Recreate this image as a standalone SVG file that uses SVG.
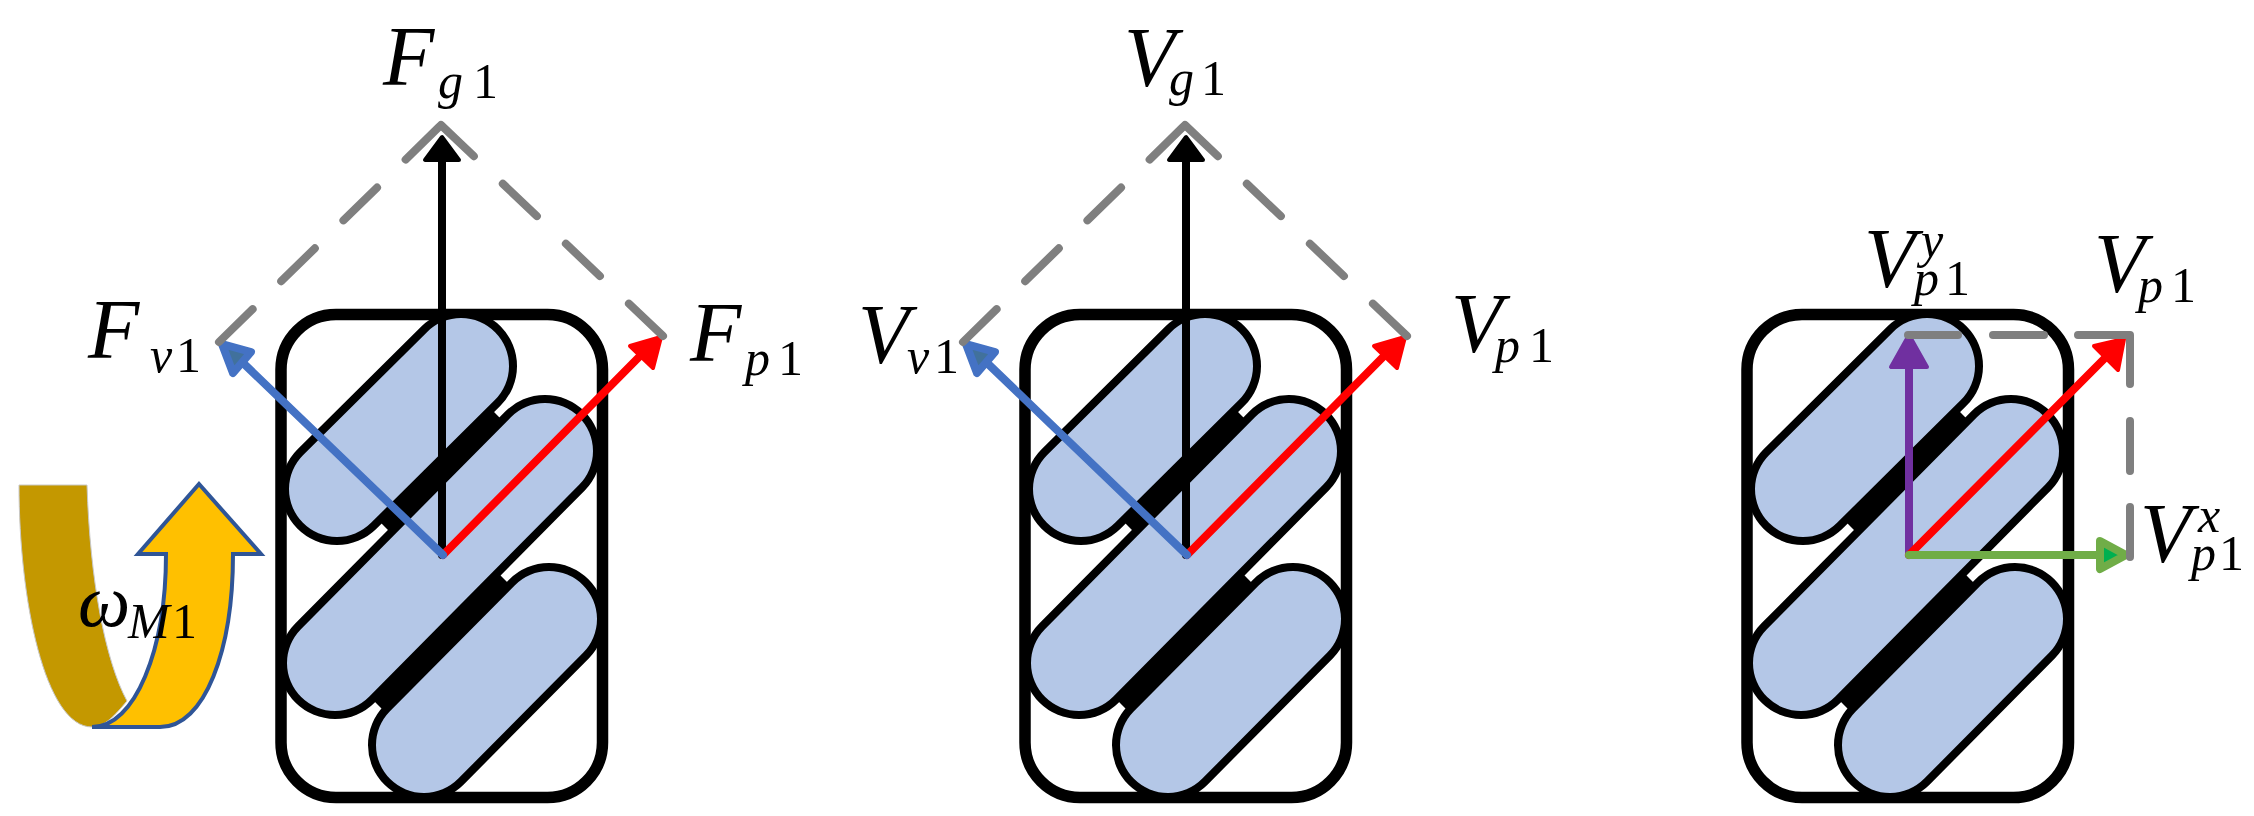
<svg xmlns="http://www.w3.org/2000/svg" width="2254" height="816" viewBox="0 0 2254 816" font-family="'Liberation Serif', serif">
<style>
text,tspan{font-family:'Liberation Serif',serif;fill:#000}
.b{font-size:84px;font-style:italic}
.w{font-size:74px;font-style:italic}
.s{font-size:50px;font-style:italic}
.d{font-size:50px;font-style:normal}
.frame{fill:none;stroke:#000;stroke-width:11.5}
.band{stroke:#000;stroke-width:26;fill:none}
.co{stroke:#000;stroke-width:112;stroke-linecap:round;fill:none}
.ci{stroke:#B4C7E7;stroke-width:96;stroke-linecap:round;fill:none}
.gray{fill:none;stroke:#7F7F7F;stroke-width:8;stroke-linecap:round;stroke-linejoin:round}
.dash{stroke-dasharray:47 40}
.ln{fill:none;stroke-width:8;stroke-linecap:round}
.hd{stroke-width:4;stroke-linejoin:round}
</style>
<defs>
<g id="body">
<rect class="frame" x="281" y="314.5" width="321.5" height="483" rx="55" ry="55"/>
<path class="band" d="M385,527L497,415M378,705L504,579"/>
<path class="co" d="M337,489L461,366"/><path class="ci" d="M337,489L461,366"/>
<path class="co" d="M335,663L545,451"/><path class="ci" d="M335,663L545,451"/>
<path class="co" d="M424,745L549,619"/><path class="ci" d="M424,745L549,619"/>
</g>
<g id="fan">
<path class="ln" stroke="#000" d="M442,555V160"/>
<path class="hd" fill="#000" stroke="#000" d="M442,137L425,160H459Z"/>
<path class="ln" stroke="#FF0000" d="M443,555L642,354"/>
<path class="hd" fill="#FF0000" stroke="#FF0000" d="M661,337L630,346L653,368Z"/>
<path class="ln" stroke="#4472C4" d="M443,555L240,360"/>
<path fill="#41719C" stroke="#4472C4" stroke-width="8" stroke-linejoin="round" d="M222,344L251,352L233,373Z"/>
<path class="gray dash" d="M219,342L441,125"/>
<path class="gray dash" d="M663,336L441,125"/>
</g>
</defs>
<g id="body-1"><use href="#body"/></g>
<g id="body-2"><use href="#body" x="744"/></g>
<g id="body-3"><use href="#body" x="1466"/></g>
<g id="rotation">
<path fill="#C49800" stroke="#C8C8C8" stroke-width="1" d="M19,485H87C90,580 105,660 127,701C115,715 105,727 92,727C45,727 19,600 19,485Z"/>
<path fill="#FFC000" stroke="#2F5597" stroke-width="4" d="M92,727C135,727 166,650 166,554H138L199,484L261,554H233C233,650 205,727 160,727Z"/>
<text><tspan class="w" x="78" y="626">ω</tspan><tspan class="s" x="128" y="638">M</tspan><tspan class="d" x="172" y="638">1</tspan></text>
</g>
<g id="connectors">
<use href="#fan"/>
<use href="#fan" x="744"/>
<path class="ln" stroke="#7030A0" d="M1909,555V368"/>
<path class="hd" fill="#7030A0" stroke="#7030A0" d="M1909,335L1891,367H1927Z"/>
<path class="ln" stroke="#FF0000" d="M1909,555L2105,358"/>
<path class="hd" fill="#FF0000" stroke="#FF0000" d="M2124,339L2094,346L2118,370Z"/>
<path class="ln" stroke="#70AD47" d="M1909,555H2100"/>
<path fill="#00B050" stroke="#70AD47" stroke-width="8" stroke-linejoin="round" d="M2100,541L2126,555L2100,569Z"/>
<path class="gray" d="M1908,335H1958M1993,335H2044M2078,335H2130V384M2130,421V471M2130,507V557"/>
</g>
<g id="labels-force">
<text><tspan class="b" x="383" y="85">F</tspan><tspan class="s" x="438" y="98">g</tspan><tspan class="d" x="473" y="98">1</tspan></text>
<text><tspan class="b" x="88" y="358">F</tspan><tspan class="s" x="150" y="372">v</tspan><tspan class="d" x="176" y="372">1</tspan></text>
<text><tspan class="b" x="690" y="361">F</tspan><tspan class="s" x="745" y="375">p</tspan><tspan class="d" x="778" y="375">1</tspan></text>
</g>
<g id="labels-velocity">
<text><tspan class="b" x="1124" y="86">V</tspan><tspan class="s" x="1169" y="95">g</tspan><tspan class="d" x="1201" y="95">1</tspan></text>
<text><tspan class="b" x="858" y="363">V</tspan><tspan class="s" x="907" y="373">v</tspan><tspan class="d" x="934" y="373">1</tspan></text>
<text><tspan class="b" x="1451" y="352">V</tspan><tspan class="s" x="1495" y="362">p</tspan><tspan class="d" x="1529" y="362">1</tspan></text>
</g>
<g id="labels-components">
<text><tspan class="b" x="1864" y="287">V</tspan><tspan class="s" x="1921" y="257">y</tspan><tspan class="s" x="1914" y="295">p</tspan><tspan class="d" x="1945" y="295">1</tspan></text>
<text><tspan class="b" x="2094" y="292">V</tspan><tspan class="s" x="2138" y="302">p</tspan><tspan class="d" x="2171" y="302">1</tspan></text>
<text><tspan class="b" x="2140" y="562">V</tspan><tspan class="s" x="2198" y="532">x</tspan><tspan class="s" x="2191" y="570">p</tspan><tspan class="d" x="2219" y="570">1</tspan></text>
</g>
</svg>
